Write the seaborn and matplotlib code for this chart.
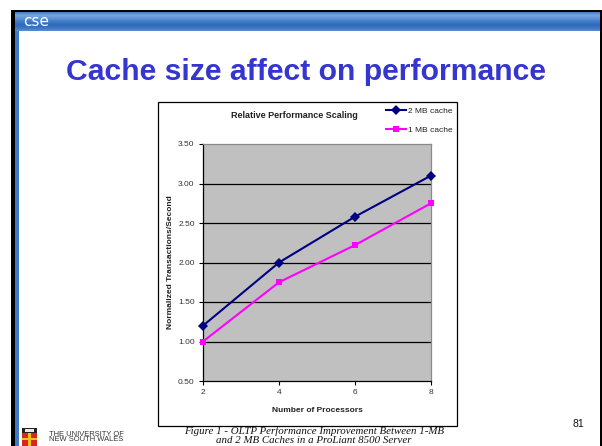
import matplotlib
matplotlib.use("Agg")
import matplotlib.pyplot as plt
import matplotlib.patches as mpatches
from matplotlib.colors import LinearSegmentedColormap
import numpy as np
import pandas as pd
import seaborn as sns

# ---- data ----
processors = [2, 4, 6, 8]
cache_2mb = [1.20, 2.00, 2.58, 3.10]
cache_1mb = [1.00, 1.75, 2.22, 2.75]
series_names = ["2 MB cache", "1 MB cache"]
y_ticks = [0.50, 1.00, 1.50, 2.00, 2.50, 3.00, 3.50]

df = pd.DataFrame({
    "Number of Processors": processors * 2,
    "value": cache_2mb + cache_1mb,
    "cache": [series_names[0]] * 4 + [series_names[1]] * 4,
})

W, H = 602, 446
fig = plt.figure(figsize=(W / 100, H / 100), dpi=100)
fig.patch.set_facecolor("white")

# ---- slide decoration, in pixel coordinates ----
deco = fig.add_axes([0, 0, 1, 1], zorder=0)
deco.set_xlim(0, W)
deco.set_ylim(H, 0)
deco.axis("off")

# black outer frame
deco.add_patch(mpatches.Rectangle((11, 10), 3.5, H - 10, color="black", lw=0))
deco.add_patch(mpatches.Rectangle((11, 10), W - 11, 2.6, color="black", lw=0))
deco.add_patch(mpatches.Rectangle((599.5, 10), 2.5, H - 10, color="black", lw=0))
# blue left stripe
deco.add_patch(mpatches.Rectangle((14.5, 31), 4, H - 31, color="#3f79c8", lw=0))

# header bar gradient
bar_cmap = LinearSegmentedColormap.from_list(
    "bar", ["#4379c2", "#78a6df", "#5f93d5", "#3f7bc9", "#2f6bbb", "#3a74c3", "#5b8ed2"])
grad = np.linspace(0, 1, 60).reshape(-1, 1)
deco.imshow(grad, cmap=bar_cmap, aspect="auto", extent=[14.5, 599.5, 31.5, 12.6],
            interpolation="bilinear", zorder=1)
deco.set_xlim(0, W)
deco.set_ylim(H, 0)
deco.text(23, 21.5, "cse", color="white", fontsize=11, family="DejaVu Sans",
          va="center", ha="left", zorder=2)

# slide title
deco.text(306, 72, "Cache size affect on performance", color="#3535cf",
          fontsize=21.7, fontweight="bold", family="Liberation Sans",
          ha="center", va="center")

# chart box
deco.add_patch(mpatches.Rectangle((158, 102), 299, 324, facecolor="white",
                                  edgecolor="black", lw=0.9, zorder=1))
deco.text(294, 116, "Relative Performance Scaling", fontsize=6.5, fontweight="bold",
          family="Liberation Sans", ha="center", va="center", color="#222222", zorder=3)

# caption
deco.text(314, 431, "Figure 1 - OLTP Performance Improvement Between 1-MB",
          fontsize=7.8, style="italic", family="Liberation Serif", ha="center",
          va="center", color="#111111")
deco.text(314, 440.5, "and 2 MB Caches in a ProLiant 8500 Server",
          fontsize=7.8, style="italic", family="Liberation Serif", ha="center",
          va="center", color="#111111")

# page number
deco.text(578, 424, "81", fontsize=7.5, family="Liberation Sans", ha="center",
          va="center", color="#111111")

# university crest and name
deco.add_patch(mpatches.Rectangle((22, 428), 15, 18, color="#d8261c", lw=0, zorder=2))
deco.add_patch(mpatches.Rectangle((22, 428), 15, 5, color="#222222", lw=0, zorder=3))
deco.add_patch(mpatches.Rectangle((25, 429.2), 9, 2.6, color="#e8e8e8", lw=0, zorder=4))
deco.add_patch(mpatches.Rectangle((28, 433), 3, 13, color="#f2c21c", lw=0, zorder=3))
deco.add_patch(mpatches.Rectangle((22, 437.5), 15, 2.8, color="#f2c21c", lw=0, zorder=3))
deco.text(49, 434, "THE UNIVERSITY OF", fontsize=5.4, family="Liberation Sans",
          ha="left", va="center", color="#333333")
deco.text(49, 439.5, "NEW SOUTH WALES", fontsize=5.4, family="Liberation Sans",
          ha="left", va="center", color="#333333")

# ---- chart ----
px0, px1, py0, py1 = 203, 431, 144, 381
ax = fig.add_axes([px0 / W, 1 - py1 / H, (px1 - px0) / W, (py1 - py0) / H], zorder=2)
ax.set_facecolor("#c0c0c0")

sns.lineplot(data=df, x="Number of Processors", y="value", hue="cache", style="cache",
             palette={series_names[0]: "#000080", series_names[1]: "#ff00ff"},
             markers={series_names[0]: "D", series_names[1]: "s"},
             dashes=False, markersize=4.8, markeredgewidth=0, linewidth=1.5,
             ax=ax, clip_on=False, zorder=3)

ax.set_xlim(2, 8)
ax.set_ylim(0.5, 3.5)
ax.set_xticks(processors)
ax.set_xticklabels([str(p) for p in processors])
ax.set_yticks(y_ticks)
ax.set_yticklabels([f"{v:.2f}" for v in y_ticks])
for v in y_ticks[1:-1]:
    ax.axhline(v, color="black", lw=0.9, zorder=1)

for side in ("top", "right"):
    ax.spines[side].set_color("#8a8a8a")
    ax.spines[side].set_linewidth(0.9)
for side in ("left", "bottom"):
    ax.spines[side].set_color("black")
    ax.spines[side].set_linewidth(0.9)

ax.tick_params(axis="both", direction="out", length=3, width=0.8, labelsize=6,
               colors="black", labelcolor="#333333", pad=3)
for lab in ax.get_xticklabels() + ax.get_yticklabels():
    lab.set_family("Liberation Sans")

ax.set_xlabel("Number of Processors", fontsize=6, fontweight="bold",
              family="Liberation Sans", color="#222222", labelpad=8)
ax.set_ylabel("Normalized Transactions/Second", fontsize=6, fontweight="bold",
              family="Liberation Sans", color="#222222", labelpad=3)

handles, labels = ax.get_legend_handles_labels()
ax.get_legend().remove()
leg = fig.legend(handles, labels, loc="upper left",
                 bbox_to_anchor=(386 / W, 1 - 107 / H), bbox_transform=fig.transFigure,
                 frameon=False, fontsize=6, handlelength=2.4, handletextpad=0.3,
                 labelspacing=1.3, borderpad=0, borderaxespad=0)
for t in leg.get_texts():
    t.set_family("Liberation Sans")
    t.set_color("#222222")

fig.savefig("out.png", dpi=100)
